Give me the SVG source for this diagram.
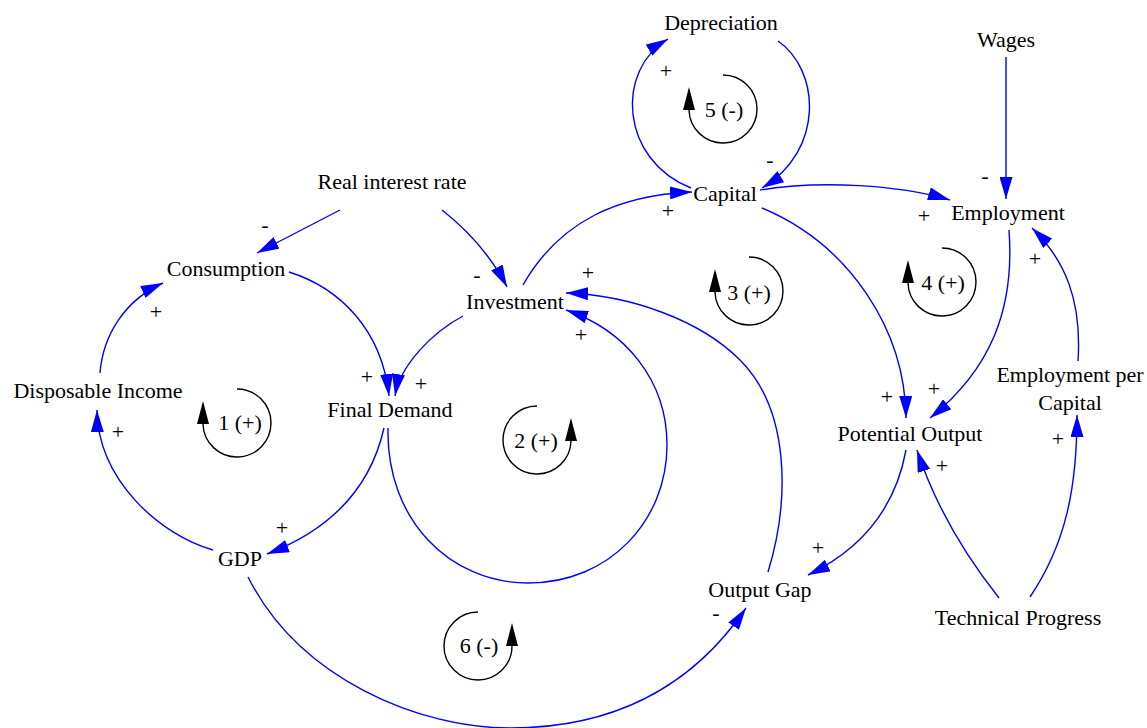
<svg xmlns="http://www.w3.org/2000/svg" width="1147" height="728" viewBox="0 0 1147 728">
<style>
text{font-family:"Liberation Serif","Times New Roman",serif;font-size:22px;fill:#000;text-anchor:middle}
.e{fill:none;stroke:#0000ff;stroke-width:1.4;marker-end:url(#ah)}
.l{fill:none;stroke:#000;stroke-width:1.4}
.h{fill:#000}
</style>
<defs>
<marker id="ah" markerUnits="userSpaceOnUse" markerWidth="22" markerHeight="13" refX="22" refY="6.5" orient="auto"><path d="M0,0 L22,6.5 L0,13 z" fill="#0000ff"/></marker>
</defs>
<rect width="1147" height="728" fill="#fff"/>
<g id="connectors">
<path class="e" d="M340,210 L257,253"/>
<path class="e" d="M442,210 C470,232 492,258 507,287"/>
<path class="e" d="M289,272 C340,288 382,330 389,396"/>
<path class="e" d="M463,316 C433,332 400,365 395,396"/>
<path class="e" d="M100,373 C103,335 125,300 163,283"/>
<path class="e" d="M213,550 C160,535 98,480 97,410"/>
<path class="e" d="M384,428 C370,490 330,530 267,554"/>
<path class="e" d="M388,428 C386,520 450,583 528,583 C610,583 667,520 667,445 C667,380 625,330 566,310"/>
<path class="e" d="M768,572 C790,500 790,410 740,360 C700,320 630,295 566,293"/>
<path class="e" d="M523,285 C560,220 620,195 692,192"/>
<path class="e" d="M691,188 C620,160 615,70 668,39"/>
<path class="e" d="M778,41 C820,70 825,150 762,188"/>
<path class="e" d="M760,190 C820,180 900,185 950,200"/>
<path class="e" d="M1006,57 L1006,199"/>
<path class="e" d="M762,208 C850,245 905,330 906,418"/>
<path class="e" d="M1009,230 C1015,310 990,370 930,418"/>
<path class="e" d="M1078,361 C1082,300 1065,260 1032,228"/>
<path class="e" d="M1030,597 C1065,545 1077,490 1077,415"/>
<path class="e" d="M999,598 C965,555 935,505 917,450"/>
<path class="e" d="M906,450 C895,510 860,550 808,575"/>
<path class="e" d="M248,577 C300,680 420,728 510,728 C610,728 690,690 746,608"/>
</g>
<g id="edge-labels">
<text x="265" y="232">-</text>
<text x="477" y="282">-</text>
<text x="367" y="384">+</text>
<text x="421" y="391">+</text>
<text x="156" y="319">+</text>
<text x="118" y="439">+</text>
<text x="282" y="535">+</text>
<text x="581" y="342">+</text>
<text x="588" y="280">+</text>
<text x="668" y="218">+</text>
<text x="666" y="78">+</text>
<text x="770" y="167">-</text>
<text x="924" y="223">+</text>
<text x="985" y="183">-</text>
<text x="887" y="404">+</text>
<text x="934" y="396">+</text>
<text x="1035" y="266">+</text>
<text x="1058" y="446">+</text>
<text x="942" y="473">+</text>
<text x="818" y="555">+</text>
<text x="716" y="620">-</text>
</g>
<g id="node-depreciation"><text x="721" y="30">Depreciation</text></g>
<g id="node-wages"><text x="1006" y="47">Wages</text></g>
<g id="node-capital"><text x="725" y="201">Capital</text></g>
<g id="node-employment"><text x="1008" y="220">Employment</text></g>
<g id="node-real-interest-rate"><text x="392" y="189">Real interest rate</text></g>
<g id="node-consumption"><text x="226" y="276">Consumption</text></g>
<g id="node-investment"><text x="515" y="309">Investment</text></g>
<g id="node-disposable-income"><text x="98" y="398">Disposable Income</text></g>
<g id="node-final-demand"><text x="390" y="417">Final Demand</text></g>
<g id="node-potential-output"><text x="910" y="441">Potential Output</text></g>
<g id="node-employment-per-capital"><text x="1070" y="382">Employment per</text><text x="1070" y="410">Capital</text></g>
<g id="node-gdp"><text x="240" y="566">GDP</text></g>
<g id="node-output-gap"><text x="760" y="597">Output Gap</text></g>
<g id="node-technical-progress"><text x="1018" y="625">Technical Progress</text></g>
<g id="loop-1">
<path class="l" d="M237,389 A34,34 0 1 1 203,424"/>
<polygon class="h" points="203,401 197,424 209,424"/>
<text x="240" y="430">1 (+)</text>
</g>
<g id="loop-2">
<path class="l" d="M537,406 A34,34 0 1 0 571,441"/>
<polygon class="h" points="571,418 565,441 577,441"/>
<text x="536" y="448">2 (+)</text>
</g>
<g id="loop-3">
<path class="l" d="M749,257 A34,34 0 1 1 715,292"/>
<polygon class="h" points="715,269 709,292 721,292"/>
<text x="749" y="300">3 (+)</text>
</g>
<g id="loop-4">
<path class="l" d="M942,248 A34,34 0 1 1 908,283"/>
<polygon class="h" points="908,260 902,283 914,283"/>
<text x="943" y="290">4 (+)</text>
</g>
<g id="loop-5">
<path class="l" d="M723,75 A34,34 0 1 1 689,110"/>
<polygon class="h" points="689,87 683,110 695,110"/>
<text x="724" y="117">5 (-)</text>
</g>
<g id="loop-6">
<path class="l" d="M478,612 A34,34 0 1 0 512,646"/>
<polygon class="h" points="512,623 506,646 518,646"/>
<text x="479" y="653">6 (-)</text>
</g>
</svg>
